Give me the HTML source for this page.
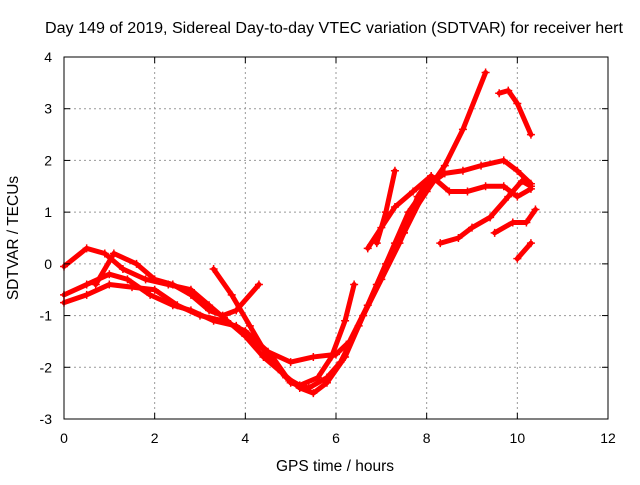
<!DOCTYPE html>
<html><head><meta charset="utf-8"><style>
body{margin:0;background:#fff}
text{font-family:"Liberation Sans",sans-serif;font-size:14px;fill:#000}
.big{font-size:15.5px}
</style></head><body>
<svg id="chart" width="640" height="480" xmlns="http://www.w3.org/2000/svg">
<text class="big" x="334" y="33" text-anchor="middle" textLength="578" lengthAdjust="spacingAndGlyphs">Day 149 of 2019, Sidereal Day-to-day VTEC variation (SDTVAR) for receiver hert</text>
<g id="grid"></g>
<g id="series"></g>
<rect x="64" y="57" width="544" height="362" fill="none" stroke="#000" stroke-width="1"/>
<g id="ticks"></g>
<text class="big" x="335" y="471" text-anchor="middle">GPS time / hours</text>
<text class="big" x="18" y="238" text-anchor="middle" transform="rotate(-90 18 238)">SDTVAR / TECUs</text>
</svg>
<script>
const xTicks=[0,2,4,6,8,10,12];
const yTicks=[-3,-2,-1,0,1,2,3,4];
const arc1=[[0,-0.05],[0.5,0.3],[0.9,0.2],[1.3,-0.1],[1.8,-0.3],[2.3,-0.4],[2.8,-0.5],[3.2,-0.8],[3.6,-1.1],[4,-1.4],[4.4,-1.8],[4.8,-2.1],[5.2,-2.4],[5.5,-2.5],[5.8,-2.3],[6.2,-1.8],[6.6,-1.0],[7,-0.3],[7.4,0.4],[7.7,1.0],[8,1.4],[8.4,1.9],[8.8,2.6],[9.3,3.7]];
const arc2=[[0,-0.6],[0.5,-0.4],[1,-0.2],[1.4,-0.3],[1.9,-0.6],[2.4,-0.8],[2.8,-0.9],[3.3,-1.1],[3.8,-1.2],[4.2,-1.5],[4.6,-1.8],[5,-2.3],[5.4,-2.4],[5.8,-2.2],[6.1,-1.9],[6.5,-1.2],[6.9,-0.4],[7.3,0.4],[7.6,1.0],[8,1.5],[8.4,1.75],[8.8,1.8],[9.2,1.9],[9.7,2.0],[10,1.8],[10.3,1.55]];
const arc3=[[0,-0.75],[0.5,-0.6],[1,-0.4],[1.5,-0.45],[2,-0.5],[2.5,-0.8],[3,-1.0],[3.5,-1.1],[4,-1.3],[4.5,-1.7],[5,-1.9],[5.5,-1.8],[6,-1.75],[6.3,-1.5],[6.7,-0.8],[7.1,0],[7.5,0.6],[7.8,1.3],[8.1,1.7],[8.5,1.4],[8.9,1.4],[9.3,1.5],[9.7,1.5],[10,1.3],[10.3,1.45]];
const arc4=[[0.7,-0.4],[1.1,0.2],[1.6,0.0],[2,-0.3],[2.4,-0.4],[2.8,-0.6],[3.2,-0.9],[3.5,-1.0],[3.8,-0.9],[4.3,-0.4]];
const arc5=[[3.3,-0.1],[3.7,-0.6],[4.1,-1.2],[4.5,-1.8],[4.9,-2.2],[5.2,-2.35],[5.6,-2.2],[5.9,-1.8],[6.2,-1.1],[6.4,-0.4]];
const arc6=[[6.7,0.3],[7,0.7],[7.3,1.1],[7.7,1.4],[8.1,1.7]];
const arc7=[[6.9,0.4],[7.1,1.0],[7.3,1.8]];
const arc8=[[7.5,0.6],[7.9,1.3]];
const arc9=[[8.3,0.4],[8.7,0.5],[9,0.7],[9.4,0.9],[9.8,1.3],[10.1,1.6],[10.3,1.5]];
const arc10=[[9.5,0.6],[9.9,0.8],[10.2,0.8],[10.4,1.05]];
const arc11=[[9.6,3.3],[9.8,3.35],[10,3.1],[10.3,2.5]];
const arc12=[[10,0.1],[10.3,0.4]];
const arcs=[arc1,arc2,arc3,arc4,arc5,arc6,arc7,arc8,arc9,arc10,arc11,arc12];
const NS='http://www.w3.org/2000/svg';
const sx=h=>64+h*544/12, sy=v=>57+(4-v)*362/7;
const grid=document.getElementById('grid'),ticks=document.getElementById('ticks'),ser=document.getElementById('series');
function mk(tag,a,p){const e=document.createElementNS(NS,tag);for(const k in a)e.setAttribute(k,a[k]);p.appendChild(e);return e;}
xTicks.forEach(t=>{
 if(t>0&&t<12){const g=mk('line',{x1:sx(t),x2:sx(t),y1:57,y2:419,stroke:'#999','stroke-dasharray':'2,3'},grid);
 
 }
 const l=mk('text',{x:sx(t),y:443,'text-anchor':'middle'},ticks);l.textContent=t;
 
 
 mk('line',{x1:sx(t),x2:sx(t),y1:419,y2:413,stroke:'#000'},ticks);
 mk('line',{x1:sx(t),x2:sx(t),y1:57,y2:63,stroke:'#000'},ticks);
});
yTicks.forEach(t=>{
 if(t>-3&&t<4){const g=mk('line',{x1:64,x2:608,y1:sy(t),y2:sy(t),stroke:'#999','stroke-dasharray':'2,3'},grid);
 
 }
 const l=mk('text',{x:52,y:sy(t)+5,'text-anchor':'end'},ticks);l.textContent=t;
 
 
 mk('line',{x1:64,x2:70,y1:sy(t),y2:sy(t),stroke:'#000'},ticks);
 mk('line',{x1:608,x2:602,y1:sy(t),y2:sy(t),stroke:'#000'},ticks);
});
arcs.forEach((a,i)=>{
 const pl=mk('polyline',{points:a.map(p=>sx(p[0])+','+sy(p[1])).join(' '),fill:'none',stroke:'#f00','stroke-width':5,'stroke-linejoin':'round','stroke-linecap':'round'},ser);
 
 
 a.forEach(p=>{const x=sx(p[0]),y=sy(p[1]);
  const m=mk('path',{d:`M${x-4},${y}h8M${x},${y-4}v8`,stroke:'#f00','stroke-width':1.5},ser);
  
  });
});
</script>
</body></html>
